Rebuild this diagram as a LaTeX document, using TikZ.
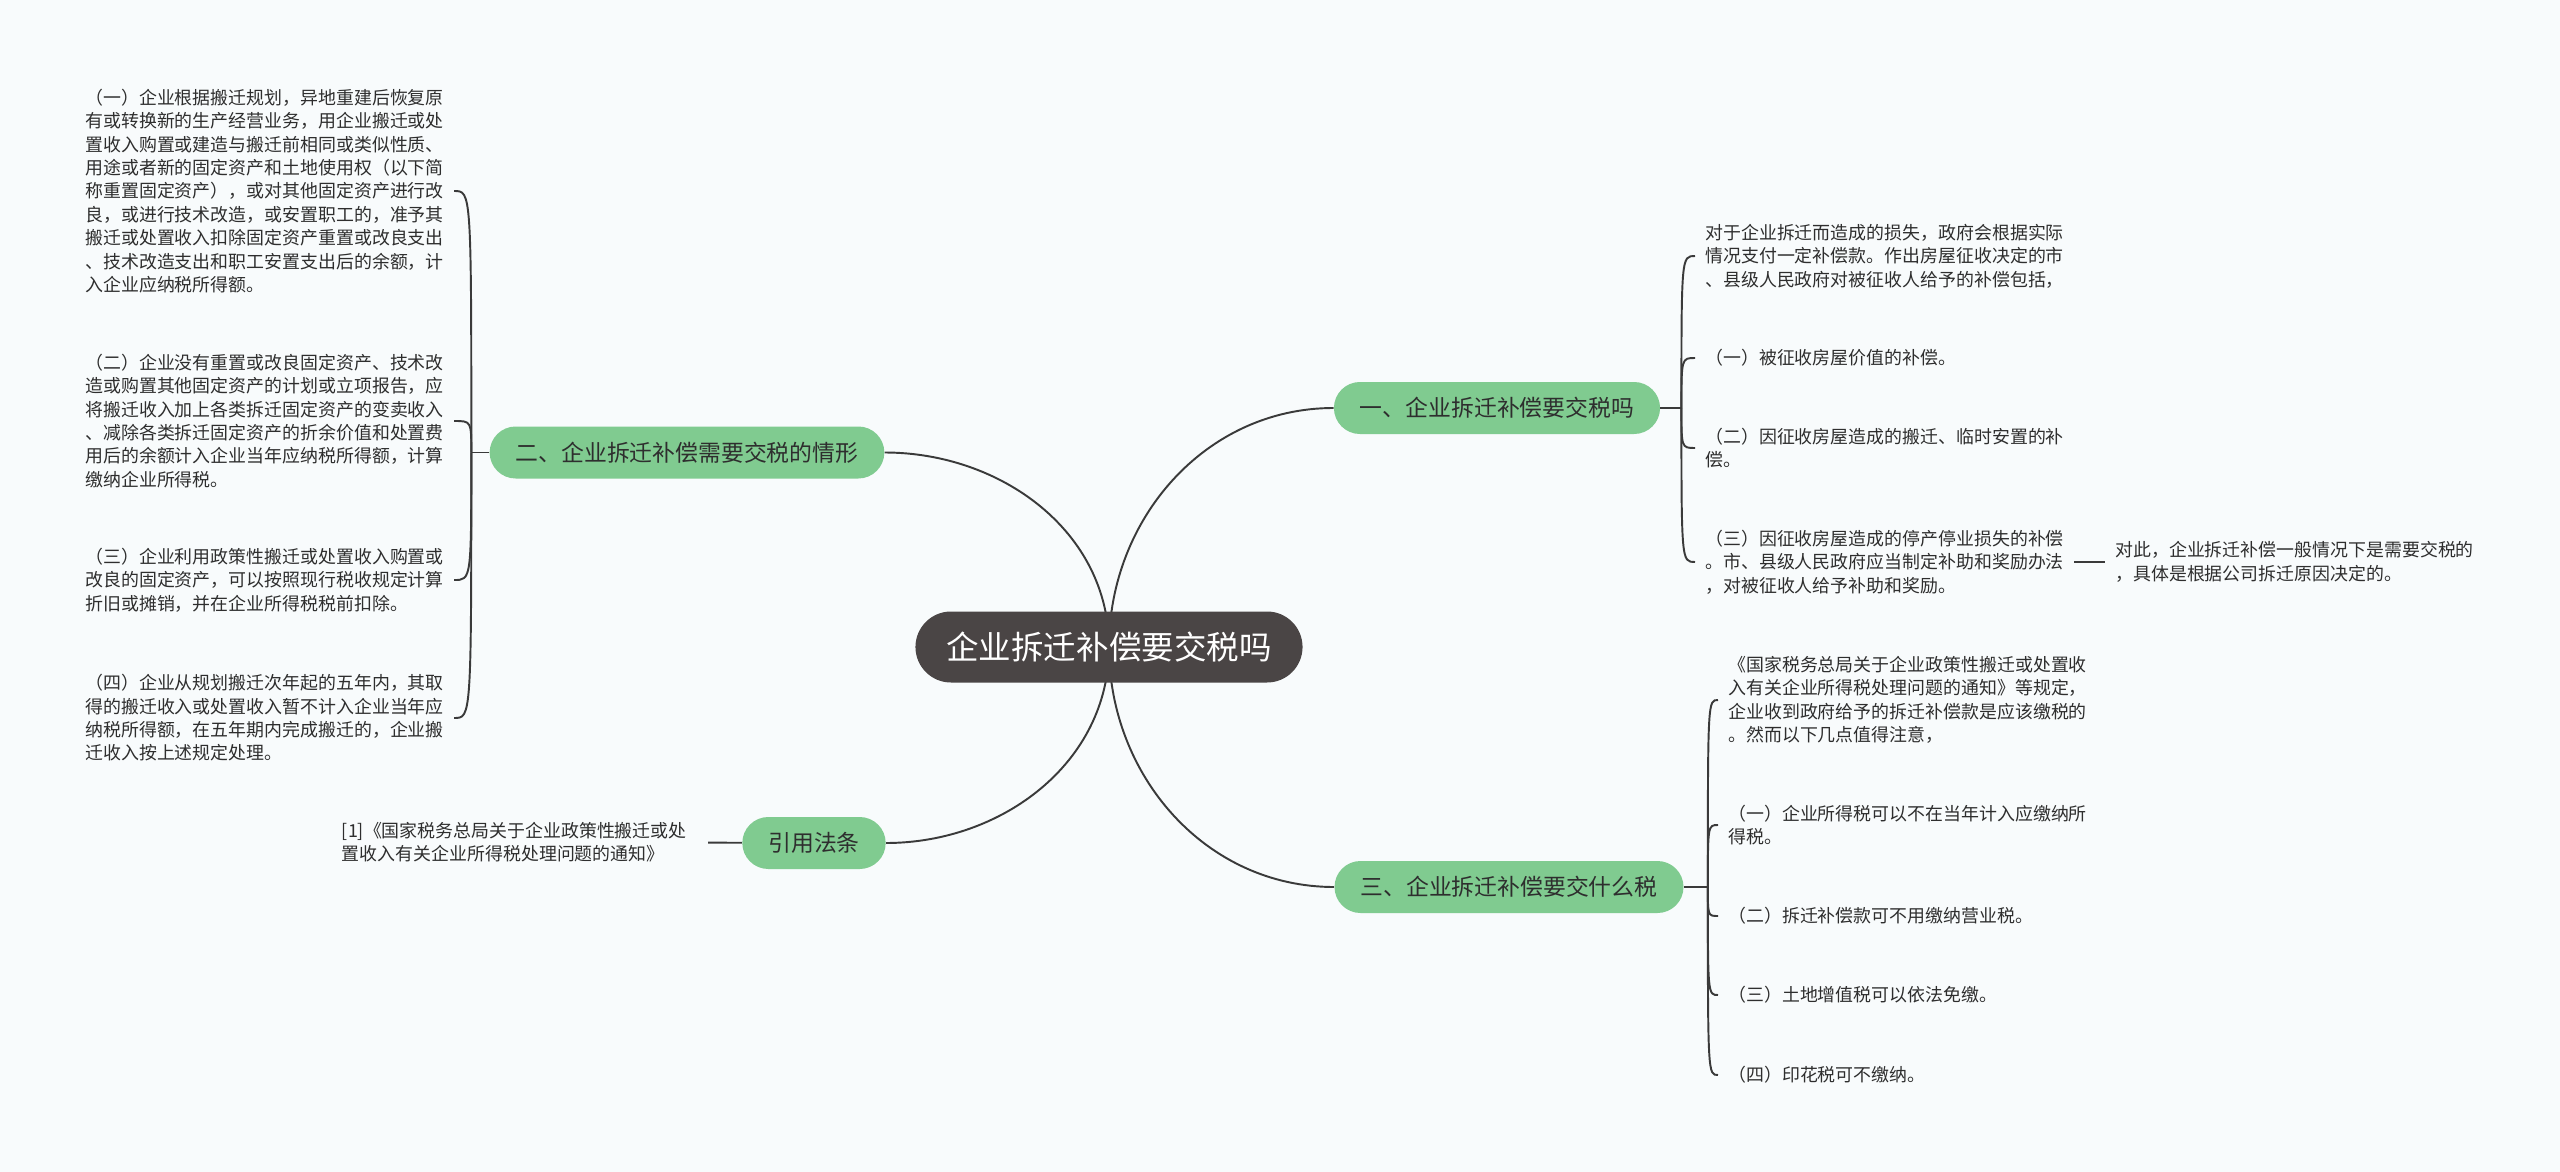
\documentclass[tikz,border=0pt]{standalone}
\usepackage{fontspec}
\setmainfont{Noto Sans CJK SC}
\usetikzlibrary{calc,backgrounds}
\definecolor{mmbg}{HTML}{F8FBFC}
\definecolor{mmgreen}{HTML}{80CB90}
\definecolor{mmdark}{HTML}{4A4545}
\definecolor{mmline}{HTML}{3A3A3A}
\definecolor{mmtext}{HTML}{2E2E2E}

\begin{document}
\begin{tikzpicture}[
 root/.style={fill=mmdark,text=white,rounded corners=0.71cm,minimum height=1.42cm,inner xsep=0.62cm,font=\fontsize{18.5}{22}\selectfont},
 br/.style={fill=mmgreen,text=mmtext,rounded corners=0.52cm,minimum height=1.04cm,inner xsep=0.52cm,font=\fontsize{13}{15}\selectfont},
 leaf/.style={align=left,inner xsep=0.2cm,inner ysep=2pt,text=mmtext,font=\fontsize{10.2}{13.3}\selectfont},
 lk/.style={draw=mmline,line width=1.1pt}]
\node[root] (root) at (22.18,-12.94) {企业拆迁补偿要交税吗};
\node[br] (br1) at (29.94,-8.16) {一、企业拆迁补偿要交税吗};
\node[br] (br2) at (13.74,-9.05) {二、企业拆迁补偿需要交税的情形};
\node[br] (br3) at (30.18,-17.74) {三、企业拆迁补偿要交什么税};
\node[br] (br4) at (16.28,-16.86) {引用法条};

\node[leaf,anchor=west] (l1) at (1.5,-3.82) {（一）企业根据搬迁规划，异地重建后恢复原\\有或转换新的生产经营业务，用企业搬迁或处\\置收入购置或建造与搬迁前相同或类似性质、\\用途或者新的固定资产和土地使用权（以下简\\称重置固定资产），或对其他固定资产进行改\\良，或进行技术改造，或安置职工的，准予其\\搬迁或处置收入扣除固定资产重置或改良支出\\、技术改造支出和职工安置支出后的余额，计\\入企业应纳税所得额。};
\node[leaf,anchor=west] (l2) at (1.5,-8.42) {（二）企业没有重置或改良固定资产、技术改\\造或购置其他固定资产的计划或立项报告，应\\将搬迁收入加上各类拆迁固定资产的变卖收入\\、减除各类拆迁固定资产的折余价值和处置费\\用后的余额计入企业当年应纳税所得额，计算\\缴纳企业所得税。};
\node[leaf,anchor=west] (l3) at (1.5,-11.6) {（三）企业利用政策性搬迁或处置收入购置或\\改良的固定资产，可以按照现行税收规定计算\\折旧或摊销，并在企业所得税税前扣除。};
\node[leaf,anchor=west] (l4) at (1.5,-14.36) {（四）企业从规划搬迁次年起的五年内，其取\\得的搬迁收入或处置收入暂不计入企业当年应\\纳税所得额，在五年期内完成搬迁的，企业搬\\迁收入按上述规定处理。};

\node[leaf,anchor=west] (r1) at (33.9,-5.12) {对于企业拆迁而造成的损失，政府会根据实际\\情况支付一定补偿款。作出房屋征收决定的市\\、县级人民政府对被征收人给予的补偿包括，};
\node[leaf,anchor=west] (r2) at (33.9,-7.16) {（一）被征收房屋价值的补偿。};
\node[leaf,anchor=west] (r3) at (33.9,-8.96) {（二）因征收房屋造成的搬迁、临时安置的补\\偿。};
\node[leaf,anchor=west] (r4) at (33.9,-11.24) {（三）因征收房屋造成的停产停业损失的补偿\\。市、县级人民政府应当制定补助和奖励办法\\，对被征收人给予补助和奖励。};
\node[leaf,anchor=west] (rx) at (42.1,-11.24) {对此，企业拆迁补偿一般情况下是需要交税的\\，具体是根据公司拆迁原因决定的。};

\node[leaf,anchor=west] (t1) at (34.36,-14.0) {《国家税务总局关于企业政策性搬迁或处置收\\入有关企业所得税处理问题的通知》等规定，\\企业收到政府给予的拆迁补偿款是应该缴税的\\。然而以下几点值得注意，};
\node[leaf,anchor=west] (t2) at (34.36,-16.5) {（一）企业所得税可以不在当年计入应缴纳所\\得税。};
\node[leaf,anchor=west] (t3) at (34.36,-18.32) {（二）拆迁补偿款可不用缴纳营业税。};
\node[leaf,anchor=west] (t4) at (34.36,-19.9) {（三）土地增值税可以依法免缴。};
\node[leaf,anchor=west] (t5) at (34.36,-21.5) {（四）印花税可不缴纳。};

\node[leaf,anchor=east,inner xsep=0.42cm] (ref1) at (14.16,-16.84) {[1]《国家税务总局关于企业政策性搬迁或处\\置收入有关企业所得税处理问题的通知》};

\begin{scope}[on background layer]
\fill[mmbg] (0,0) rectangle (51.2,-23.44);
\draw[lk] (root.center) to[out=90,in=180] (br1.west);
\draw[lk] (root.center) to[out=90,in=0] (br2.east);
\draw[lk] (root.center) to[out=-90,in=180] (br3.west);
\draw[lk] (root.center) to[out=-90,in=0] (br4.east);
\end{scope}

\draw[lk] (br1.east) -- ++(0.42,0) coordinate (s1);
\draw[lk] (s1) .. controls (s1|-r1.west) and (s1|-r1.west) .. (r1.west);
\draw[lk] (s1) .. controls (s1|-r2.west) and (s1|-r2.west) .. (r2.west);
\draw[lk] (s1) .. controls (s1|-r3.west) and (s1|-r3.west) .. (r3.west);
\draw[lk] (s1) .. controls (s1|-r4.west) and (s1|-r4.west) .. (r4.west);
\draw[lk] (r4) -- (rx);

\draw[lk] (br2.west) -- ++(-0.36,0) coordinate (s2);
\draw[lk] (s2) .. controls (s2|-l1.east) and (s2|-l1.east) .. (l1.east);
\draw[lk] (s2) .. controls (s2|-l2.east) and (s2|-l2.east) .. (l2.east);
\draw[lk] (s2) .. controls (s2|-l3.east) and (s2|-l3.east) .. (l3.east);
\draw[lk] (s2) .. controls (s2|-l4.east) and (s2|-l4.east) .. (l4.east);

\draw[lk] (br3.east) -- ++(0.48,0) coordinate (s3);
\draw[lk] (s3) .. controls (s3|-t1.west) and (s3|-t1.west) .. (t1.west);
\draw[lk] (s3) .. controls (s3|-t2.west) and (s3|-t2.west) .. (t2.west);
\draw[lk] (s3) .. controls (s3|-t3.west) and (s3|-t3.west) .. (t3.west);
\draw[lk] (s3) .. controls (s3|-t4.west) and (s3|-t4.west) .. (t4.west);
\draw[lk] (s3) .. controls (s3|-t5.west) and (s3|-t5.west) .. (t5.west);

\draw[lk] (ref1) -- (br4);
\end{tikzpicture}
\end{document}
